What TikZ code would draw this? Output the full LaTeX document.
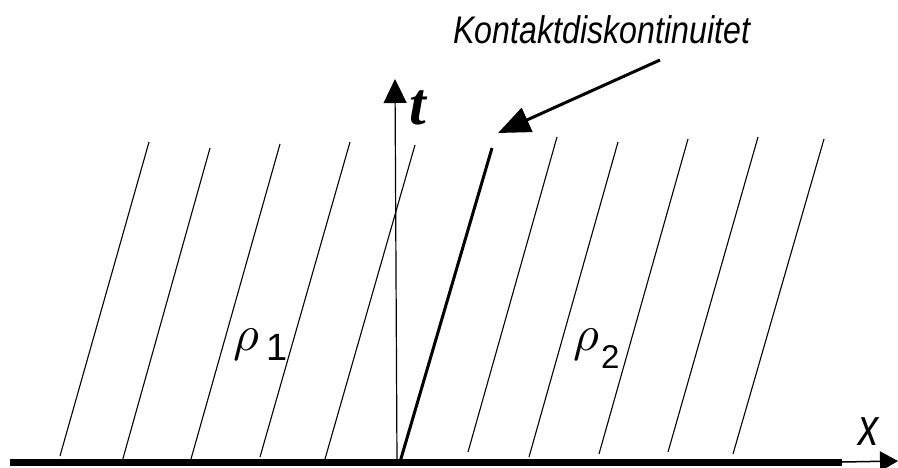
\documentclass[tikz,border=0pt]{standalone}
\usepackage{fontspec}
\setmainfont{Liberation Sans}
\newfontfamily\serifbi{Liberation Serif}
\usetikzlibrary{arrows.meta}
\begin{document}
\begin{tikzpicture}[x=1pt,y=-1pt,
  ray/.style={line width=1.1pt},
  contact/.style={line width=3pt},
  lbl/.style={inner sep=0pt, anchor=base west}]
\useasboundingbox (0,0) rectangle (898,467);
% rays
\foreach \a/\b/\c/\d [count=\i] in {149/142/60/456, 210/148/122/462, 280/144/191/459, 350/142/260/457, 415/145/325/459, 557/137/468/452, 618/142/529/457, 688/139/599/454, 758/137/668/452, 824/139/733/454}{
  \coordinate (rt\i) at (\a,\b);
  \coordinate (rb\i) at (\c,\d);
  \draw[ray] (rb\i) -- (rt\i);
}
% axes
\coordinate (o) at (397,462);
\coordinate (xl) at (10,462);
\coordinate (xm) at (842,462);
\coordinate (xe) at (898,461);
\coordinate (te) at (395,79);
\draw[line width=7pt] (xl) -- (xm);
\draw[line width=1.5pt, -{Triangle[length=18pt,width=20pt]}] (xm) -- (xe);
\draw[line width=1.2pt, -{Triangle[length=24pt,width=23pt]}] (o) -- (te);
% contact discontinuity
\coordinate (cb) at (400,462);
\coordinate (ct) at (492,148);
\draw[contact] (cb) -- (ct);
% labels
\node[lbl] (kd) at (453,43) {\fontsize{35}{40}\selectfont\scalebox{0.92}[1.1]{\itshape Kontaktdiskontinuitet}};
\coordinate (as) at (660,60);
\coordinate (ae) at (498,133);
\draw[line width=3pt, -{Triangle[length=32pt,width=26pt]}] (as) -- (ae);
\node[lbl] (tl) at (409,124) {\fontsize{60}{64}\selectfont\serifbi\bfseries\itshape t};
\node[lbl] (xlab) at (858,445) {\fontsize{62}{66}\selectfont\scalebox{0.65}[0.85]{\itshape x}};
\node[lbl] (r1) at (233,350) {\scalebox{5}{$\rho$}};
\node[lbl] (s1) at (266,360) {\fontsize{38}{42}\selectfont 1};
\node[lbl] (r2) at (573,350) {\scalebox{5}{$\rho$}};
\node[lbl] (s2) at (601,368) {\fontsize{33}{36}\selectfont 2};
\end{tikzpicture}
\end{document}
